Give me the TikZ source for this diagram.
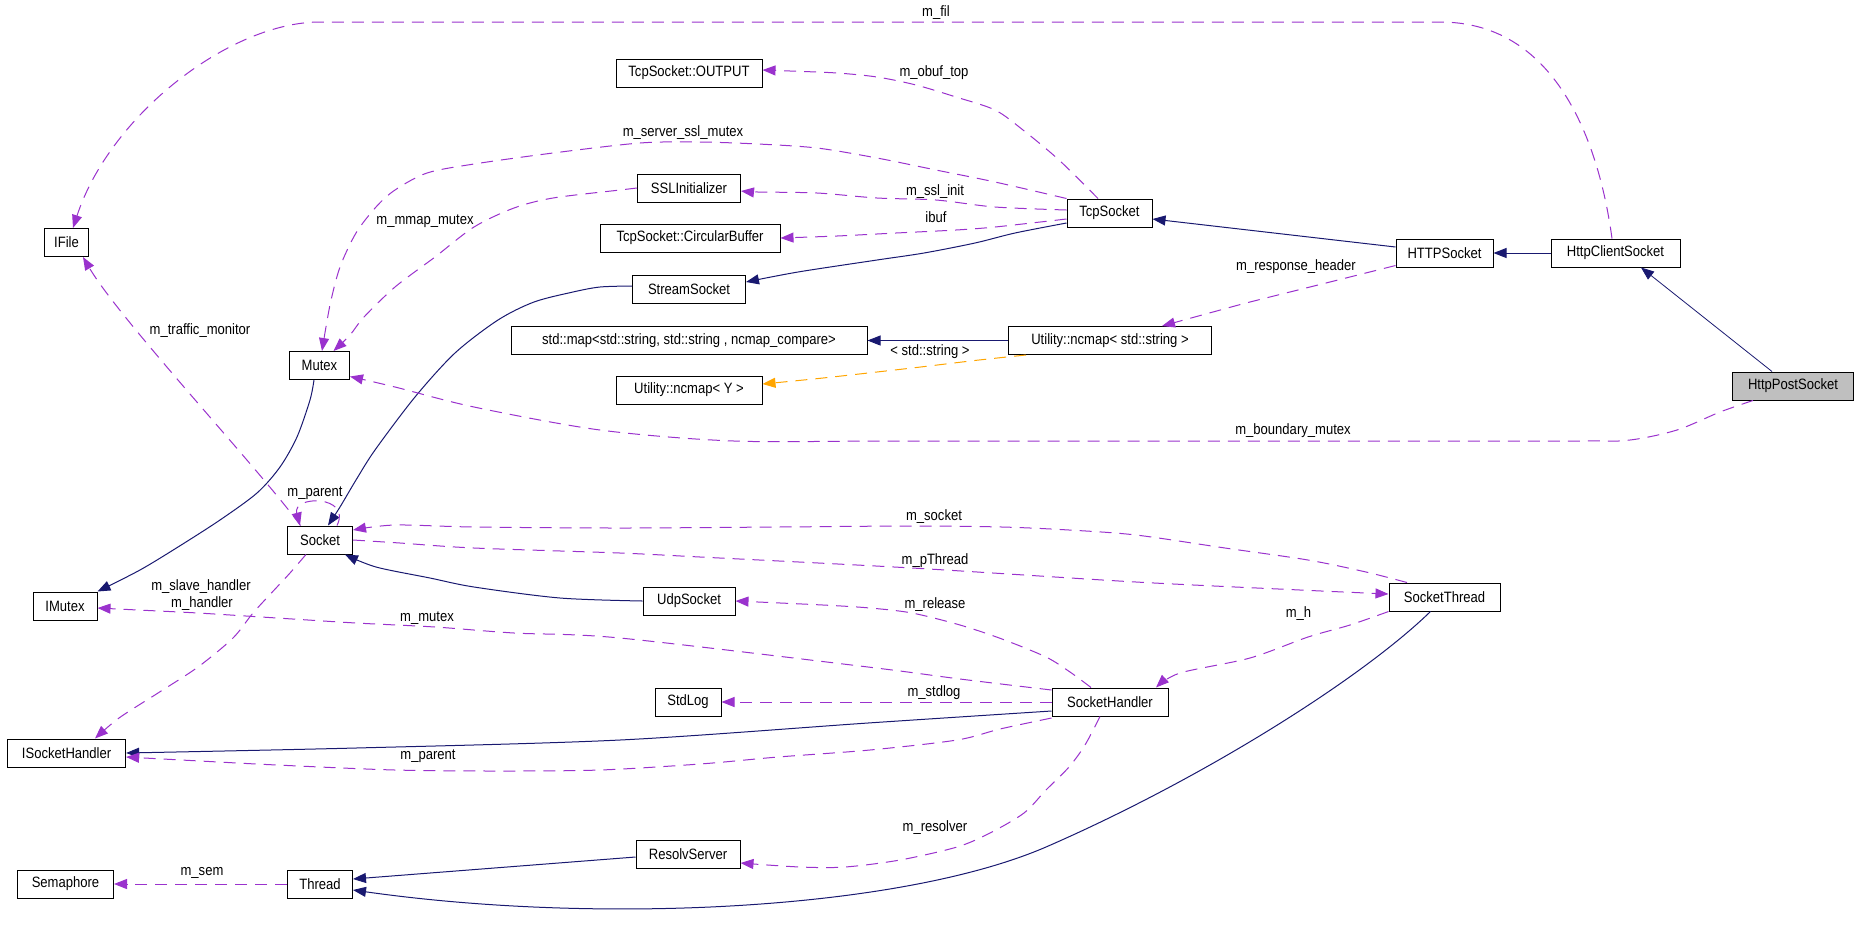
\documentclass[tikz,border=0pt]{standalone}
\usepackage{fontspec}
\setmainfont{Liberation Sans}[FakeStretch=0.87]
\usetikzlibrary{arrows.meta}
\definecolor{edgepurple}{HTML}{9A32CD}
\definecolor{edgenavy}{HTML}{191970}
\definecolor{edgeorange}{HTML}{FFA500}
\definecolor{focusgray}{HTML}{BFBFBF}
\begin{document}
\begin{tikzpicture}[x=0.5pt,y=-0.5pt,
  cls/.style={draw=black, line width=0.5pt, rectangle, minimum height=14pt, inner sep=0pt, font=\fontsize{7.5pt}{9pt}\selectfont},
  lbl/.style={inner sep=0pt, font=\fontsize{7.5pt}{9pt}\selectfont},
  tipstyle/.style={-{Triangle[length=6.5pt,width=5pt]}},
  uses/.style={tipstyle, draw=edgepurple, line width=0.5pt, dash pattern=on 6pt off 4pt},
  inh/.style={tipstyle, draw=edgenavy, line width=0.5pt},
  tmpl/.style={tipstyle, draw=edgeorange, line width=0.5pt, dash pattern=on 6pt off 4pt},
]
\useasboundingbox (0,0) rectangle (1859,939);
% nodes
\node[cls, minimum width=22pt] (ifile) at (66.5,242.5) {IFile};
\node[cls, minimum width=73pt] (output) at (689,73) {TcpSocket::OUTPUT};
\node[cls, minimum width=51.5pt] (ssl) at (689,188) {SSLInitializer};
\node[cls, minimum width=90pt] (cb) at (690,238) {TcpSocket::CircularBuffer};
\node[cls, minimum width=56.5pt] (stream) at (689,289) {StreamSocket};
\node[cls, minimum width=42.5pt] (tcp) at (1109.5,213) {TcpSocket};
\node[cls, minimum width=48.5pt] (http) at (1444.5,253) {HTTPSocket};
\node[cls, minimum width=64.5pt] (hcs) at (1615.5,253) {HttpClientSocket};
\node[cls, minimum width=60.5pt, fill=focusgray] (hps) at (1793,386) {HttpPostSocket};
\node[cls, minimum width=30pt] (mutex) at (319.5,365.5) {Mutex};
\node[cls, minimum width=32.5pt] (socket) at (320,540) {Socket};
\node[cls, minimum width=32pt] (imutex) at (65,606) {IMutex};
\node[cls, minimum width=178pt] (map) at (689,340.5) {std::map<std::string, std::string , ncmap\_compare>};
\node[cls, minimum width=101.5pt] (ncs) at (1110,340.5) {Utility::ncmap< std::string >};
\node[cls, minimum width=73pt] (ncy) at (689,390) {Utility::ncmap< Y >};
\node[cls, minimum width=46pt] (udp) at (689,601) {UdpSocket};
\node[cls, minimum width=59pt] (ish) at (66.6,753) {ISocketHandler};
\node[cls, minimum width=48pt] (sem) at (65.5,884) {Semaphore};
\node[cls, minimum width=32.5pt] (thread) at (320,884) {Thread};
\node[cls, minimum width=33pt] (stdlog) at (688,702) {StdLog};
\node[cls, minimum width=58pt] (sh) at (1110,702) {SocketHandler};
\node[cls, minimum width=52pt] (rs) at (688,854) {ResolvServer};
\node[cls, minimum width=55.5pt] (st) at (1444.5,597) {SocketThread};
% coordinates for the long m_fil route
\coordinate (filA) at (1440,22);
\coordinate (filB) at (320,22);
% edges
\draw[uses] ([xshift=-1.75pt]hcs.north) .. controls (1600,150) and (1560,22) .. (filA) -- (filB) .. controls (230,22) and (110,115) .. ([xshift=3.25pt]ifile.north);
\draw[uses] plot[smooth] coordinates {([xshift=-5.75pt]tcp.north) (1059,160) (1023,130) (995,110) (956,97) (916,85) (877,77) (837,73) (790,71) ([yshift=1.5pt]output.east)};
\draw[uses] plot[smooth] coordinates {(tcp.north west) (995,182) (936,170) (877,158) (817,148) (758,144) (699,142) (640,143) (553,153) (474,164) (427,173) (395,190) (376,207) (356,233) (340,267) (330,305) ([xshift=1.25pt]mutex.north)};
\draw[uses] plot[smooth] coordinates {(ssl.west) (620,190) (553,198) (514,208) (474,227) (435,257) (395,287) (364,317) (350,335) ([xshift=7pt]mutex.north)};
\draw[uses] plot[smooth] coordinates {([yshift=1.5pt]tcp.west) (995,207) (936,200) (877,198) (817,193) (758,192) ([yshift=-1.5pt]ssl.east)};
\draw[uses] plot[smooth] coordinates {([yshift=-3pt]tcp.west) (995,227) (956,230) (896,233) (837,236) (cb.east)};
\draw[inh] plot[smooth] coordinates {([yshift=-5pt]tcp.west) (1015,233) (975,243) (924,253) (877,260) (798,272) ([yshift=3.5pt]stream.east)};
\draw[inh] ([yshift=3pt]http.west) -- ([yshift=-3pt]tcp.east);
\draw[inh] (hcs.west) -- (http.east);
\draw[inh, line width=0.4pt] ([xshift=-10.5pt]hps.north) -- ([xshift=12.75pt]hcs.south);
\draw[uses] plot[smooth] coordinates {([yshift=1pt]http.south west) (1326,283) (1250,302) (1213,312) ([xshift=26pt]ncs.north)};
\draw[inh] (ncs.west) -- (map.east);
\draw[tmpl] plot[smooth] coordinates {([xshift=-42pt]ncs.south) (979,360) (912,368) (823,378) ([yshift=3pt]ncy.east)};
\draw[inh] plot[smooth] coordinates {([yshift=1.5pt]stream.west) (600,287) (573,292) (534,302) (498,320) (455,353) (415,397) (375,450) (356,480) (340,507) ([xshift=4pt]socket.north)};
\draw[inh] plot[smooth] coordinates {([xshift=-2.75pt]mutex.south) (310,400) (297,437) (280,467) (257,493) (220,520) (178,547) (140,570) (imutex.north east)};
\draw[uses] ([xshift=-9.75pt]socket.north) .. controls (260,470) and (120,320) .. ([xshift=8.25pt]ifile.south);
\draw[uses] ([xshift=8.5pt]socket.north) .. controls (352,495) and (292,495) .. ([xshift=-10pt]socket.north);
\draw[uses] plot[smooth] coordinates {([xshift=-7pt]socket.south) (290,573) (277,587) (253,613) (233,638) (198,667) (158,693) (119,718) ([xshift=14.2pt]ish.north)};
\draw[uses] plot[smooth] coordinates {([yshift=6pt]sh.west) (960,679) (868,667) (620,638) (514,633) (435,627) (356,623) (277,618) (198,613) (138,610) ([yshift=-1pt]imutex.east)};
\draw[uses] plot[smooth] coordinates {([xshift=-18.75pt]st.north) (1366,572) (1308,560) (1225,548) (1136,535) (1069,530) (1002,527) (912,526) (778,527) (620,528) (474,527) (395,525) ([yshift=5pt]socket.east)};
\draw[uses] plot[smooth] coordinates {(socket.east) (400,543) (474,548) (620,553) (700,557) (912,568) (1136,582) (1300,590) ([yshift=1.5pt]st.west)};
\draw[inh] plot[smooth] coordinates {(udp.west) (560,598) (474,587) (430,578) (376,567) ([xshift=-4pt]socket.south east)};
\draw[uses] plot[smooth] coordinates {([xshift=-9.5pt]sh.north) (1070,672) (1046,657) (1002,639) (960,625) (912,613) (870,608) (823,605) (udp.east)};
\draw[uses] (sh.west) -- (stdlog.east);
\draw[inh] plot[smooth] coordinates {([yshift=-4.5pt]sh.west) (868,723) (620,740) (356,748) (ish.east)};
\draw[uses] plot[smooth] coordinates {([yshift=-8pt]sh.west) (1000,729) (957,740) (870,750) (778,757) (700,764) (600,770) (500,771) (395,770) (277,765) (200,761) ([yshift=-2pt]ish.east)};
\draw[uses] plot[smooth] coordinates {(st.south west) (1350,625) (1308,637) (1250,658) (1180,673) ([xshift=23pt]sh.north)};
\draw[uses] plot[smooth] coordinates {([xshift=-5pt]sh.south) (1085,745) (1069,767) (1046,790) (1024,813) (990,833) (957,847) (900,860) (845,867) (800,867) ([yshift=-4.5pt]rs.east)};
\draw[inh] ([yshift=-1.5pt]rs.west) -- ([yshift=2.5pt]thread.east);
\draw[inh] ([xshift=-7pt]st.south) .. controls (1360,680) and (1200,780) .. (1046,847) .. controls (900,910) and (600,925) .. ([yshift=-3pt]thread.east);
\draw[uses] (thread.west) -- (sem.east);
\draw[uses] plot[smooth] coordinates {([xshift=-20pt]hps.south) (1720,412) (1677,430) (1630,440) (1580,441) (1300,441) (900,441) (734,441) (600,430) (474,407) (395,387) ([yshift=-5.5pt]mutex.east)};
% labels
\node[lbl] (l1) at (936,13) {m\_fil};
\node[lbl] (l2) at (934,73) {m\_obuf\_top};
\node[lbl] (l3) at (683,133) {m\_server\_ssl\_mutex};
\node[lbl] (l4) at (425,221) {m\_mmap\_mutex};
\node[lbl] (l5) at (935,192) {m\_ssl\_init};
\node[lbl] (l6) at (936,217) {ibuf};
\node[lbl] (l7) at (1296,267) {m\_response\_header};
\node[lbl] (l8) at (200,331) {m\_traffic\_monitor};
\node[lbl] (l9) at (930,352) {< std::string >};
\node[lbl] (l10) at (1293,431) {m\_boundary\_mutex};
\node[lbl] (l11) at (315,493) {m\_parent};
\node[lbl] (l12) at (934,517) {m\_socket};
\node[lbl] (l13) at (935,561) {m\_pThread};
\node[lbl] (l14) at (201,587) {m\_slave\_handler};
\node[lbl] (l15) at (202,604) {m\_handler};
\node[lbl] (l16) at (935,605) {m\_release};
\node[lbl] (l17) at (427,618) {m\_mutex};
\node[lbl] (l18) at (1298.5,614) {m\_h};
\node[lbl] (l19) at (934,693) {m\_stdlog};
\node[lbl] (l20) at (428,756) {m\_parent};
\node[lbl] (l21) at (935,828) {m\_resolver};
\node[lbl] (l22) at (202,873) {m\_sem};
\end{tikzpicture}
\end{document}
